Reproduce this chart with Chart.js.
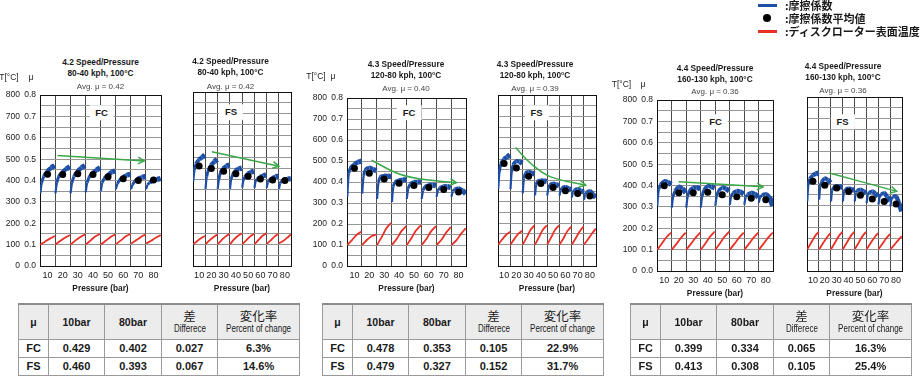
<!DOCTYPE html>
<html><head><meta charset="utf-8">
<script src="https://cdn.jsdelivr.net/npm/chart.js@4/dist/chart.umd.min.js"></script>
<style>
body{margin:0;width:920px;height:379px;position:relative;background:#fff;font-family:"Liberation Sans",Arial,sans-serif;overflow:hidden;color:#1a1a1a}
canvas{position:absolute}
.t{position:absolute;transform:translate(-50%,-50%);white-space:nowrap;line-height:1}
.ttl{font-weight:bold;font-size:8.3px;color:#1a1a1a}
.avg{font-size:8px;color:#444}
.hd{font-size:8.5px;color:#222}
.tag{font-weight:bold;font-size:9.5px;background:#fff;padding:3px 6px}
.lg{position:absolute;left:785px;font-family:"Noto Sans CJK JP",sans-serif;font-size:11px;font-weight:600;line-height:1;transform:translateY(-50%);white-space:nowrap}
table{position:absolute;border-collapse:collapse;table-layout:fixed;top:303px;border-top:2px solid #8c8c8c}
td{border:1px solid #9a9a9a;text-align:center;font-weight:bold;font-size:11px;padding:0;height:17px;line-height:1;overflow:hidden;white-space:nowrap}
tr.h td{background:#ececec;height:34px;font-size:10.5px}
.jp{font-family:"Noto Sans CJK JP",sans-serif;font-weight:normal;font-size:12.5px;display:block;line-height:14px}
.nar{font-weight:normal;font-size:10px;display:inline-block;line-height:12px;transform:scaleX(0.8);transform-origin:center;white-space:nowrap}
</style></head><body>
<script>
// ---------------- DATA ----------------
const categories = [10,20,30,40,50,60,70,80];          // pressure (bar)
const xTickLabels = [10,20,30,40,50,60,70,80];
const muTickLabels = [0.0,0.1,0.2,0.3,0.4,0.5,0.6,0.7,0.8];
const tempTickLabels = [0,100,200,300,400,500,600,700,800];
const hookDX = [-4.8,-3.8,-2.5,0,2.5,4.8];   // sample positions inside each pressure step (bar offset)
const redDX = [-4.8,-1.5,1.5,4.8];

// friction coefficient traces (one row per pressure step)
const mu42FC = [[0.34,0.39,0.42,0.445,0.46,0.47],[0.34,0.39,0.42,0.44,0.455,0.465],[0.34,0.39,0.42,0.445,0.46,0.47],[0.345,0.39,0.415,0.435,0.45,0.46],[0.35,0.39,0.41,0.425,0.44,0.445],[0.36,0.385,0.40,0.415,0.425,0.43],[0.36,0.38,0.395,0.41,0.415,0.42],[0.36,0.38,0.39,0.40,0.405,0.41]];
const mu42FS = [[0.39,0.44,0.47,0.49,0.50,0.51],[0.355,0.41,0.44,0.465,0.48,0.49],[0.355,0.40,0.43,0.45,0.46,0.465],[0.355,0.40,0.42,0.44,0.447,0.45],[0.36,0.395,0.41,0.425,0.432,0.436],[0.36,0.39,0.40,0.41,0.415,0.42],[0.36,0.385,0.395,0.405,0.41,0.413],[0.355,0.38,0.39,0.395,0.40,0.40]];
const mu43FC = [[0.33,0.44,0.47,0.485,0.495,0.50],[0.345,0.43,0.46,0.468,0.46,0.453],[0.32,0.40,0.425,0.43,0.428,0.426],[0.305,0.38,0.40,0.408,0.41,0.41],[0.32,0.37,0.39,0.40,0.40,0.40],[0.32,0.36,0.378,0.386,0.386,0.383],[0.33,0.36,0.372,0.38,0.378,0.374],[0.33,0.355,0.365,0.37,0.36,0.344]];
const mu43FS = [[0.36,0.44,0.48,0.50,0.51,0.52],[0.36,0.44,0.475,0.49,0.488,0.48],[0.34,0.41,0.435,0.44,0.435,0.43],[0.33,0.38,0.397,0.40,0.398,0.395],[0.33,0.365,0.38,0.385,0.38,0.375],[0.33,0.355,0.365,0.37,0.362,0.355],[0.32,0.345,0.355,0.36,0.352,0.345],[0.31,0.335,0.345,0.35,0.335,0.32]];
const mu44FC = [[0.305,0.38,0.405,0.42,0.415,0.405],[0.297,0.35,0.375,0.394,0.385,0.366],[0.297,0.35,0.375,0.39,0.39,0.385],[0.297,0.35,0.38,0.397,0.395,0.39],[0.305,0.35,0.375,0.39,0.385,0.375],[0.31,0.35,0.365,0.374,0.37,0.36],[0.31,0.345,0.358,0.366,0.36,0.345],[0.32,0.345,0.355,0.36,0.345,0.305]];
const mu44FS = [[0.32,0.40,0.425,0.44,0.447,0.45],[0.328,0.39,0.41,0.425,0.418,0.405],[0.32,0.37,0.385,0.39,0.388,0.385],[0.32,0.365,0.375,0.38,0.375,0.37],[0.32,0.36,0.37,0.374,0.366,0.358],[0.312,0.35,0.36,0.366,0.355,0.343],[0.305,0.34,0.352,0.358,0.34,0.32],[0.297,0.33,0.34,0.343,0.31,0.274]];

// disc rotor surface temperature traces (°C)
const temp42FC = [[100,115,128,140],[100,118,132,145],[100,120,135,148],[100,120,138,150],[100,118,135,148],[102,120,138,150],[105,120,135,148],[105,118,132,145]];
const temp42FS = [[100,115,128,138],[100,118,132,145],[100,120,135,148],[100,122,138,150],[100,118,135,148],[100,120,138,150],[102,118,135,148],[105,115,128,145]];
const temp43FC = [[100,125,148,165],[100,125,142,150],[100,140,180,205],[100,130,165,190],[100,135,170,195],[100,130,165,190],[100,125,158,185],[100,122,152,180]];
const temp43FS = [[100,125,145,160],[100,128,150,165],[100,135,168,190],[100,135,168,190],[100,135,168,190],[100,130,162,185],[100,130,160,185],[100,125,150,175]];
const temp44FC = [[100,130,158,180],[100,128,155,180],[100,128,155,180],[100,130,160,185],[100,130,160,185],[100,128,155,180],[100,128,155,180],[100,128,155,180]];
const temp44FS = [[100,130,158,180],[100,128,152,175],[100,130,158,180],[100,130,158,180],[100,130,158,180],[100,128,152,175],[100,125,148,170],[100,120,140,160]];

// average friction coefficient per pressure step
const avg42FC = [0.429,0.428,0.432,0.428,0.418,0.408,0.400,0.402];
const avg42FS = [0.460,0.448,0.436,0.424,0.413,0.400,0.395,0.393];
const avg43FC = [0.466,0.442,0.414,0.394,0.383,0.374,0.364,0.353];
const avg43FS = [0.479,0.458,0.420,0.386,0.367,0.352,0.339,0.327];
const avg44FC = [0.399,0.366,0.366,0.369,0.357,0.348,0.340,0.334];
const avg44FS = [0.413,0.394,0.382,0.366,0.348,0.331,0.320,0.308];

// trend arrows (pressure, mu)
const trendX42FC = [16.6,73.9], trendY42FC = [0.517,0.492];
const trendX42FS = [20.4,75.1], trendY42FS = [0.525,0.459];
const trendX43FC = [21.5,40.6,58.6,78.5], trendY43FC = [0.504,0.437,0.411,0.397];
const trendX43FS = [19.3,32.5,48,76.6], trendY43FS = [0.554,0.476,0.417,0.378];
const trendX44FC = [19.9,78.1], trendY44FC = [0.418,0.394];
const trendX44FS = [23.8,80.5], trendY44FS = [0.451,0.366];

// summary tables
const tableHead = ['μ','10bar','80bar'];
const table42 = [['FC','0.429','0.402','0.027','6.3%'],['FS','0.460','0.393','0.067','14.6%']];
const table43 = [['FC','0.478','0.353','0.105','22.9%'],['FS','0.479','0.327','0.152','31.7%']];
const table44 = [['FC','0.399','0.334','0.065','16.3%'],['FS','0.413','0.308','0.105','25.4%']];

// ---------------- LAYOUT ----------------
const panels = [
 {rect:[40,92,161,266], showY:true, t1:'4.2 Speed/Pressure', t2:'80-40 kph, 100°C', avg:'Avg. μ = 0.42', tag:'FC', mu:mu42FC, temp:temp42FC, dots:avg42FC, tx:trendX42FC, ty:trendY42FC, tpos:[100.5,61.5,73,87], tagpos:[101.5,112.5], hdpos:[9,31,77]},
 {rect:[170,92,291,266], showY:false, t1:'4.2 Speed/Pressure', t2:'80-40 kph, 100°C', avg:'Avg. μ = 0.42', tag:'FS', mu:mu42FS, temp:temp42FS, dots:avg42FS, tx:trendX42FS, ty:trendY42FS, tpos:[230.5,60.5,72,86.5], tagpos:[231,112]},
 {rect:[347,95,466,266], showY:true, t1:'4.3 Speed/Pressure', t2:'120-80 kph, 100°C', avg:'Avg. μ = 0.40', tag:'FC', mu:mu43FC, temp:temp43FC, dots:avg43FC, tx:trendX43FC, ty:trendY43FC, tpos:[406,64,75,89], tagpos:[409,112.5], hdpos:[316,333,76]},
 {rect:[475,95,596,266], showY:false, t1:'4.3 Speed/Pressure', t2:'120-80 kph, 100°C', avg:'Avg. μ = 0.39', tag:'FS', mu:mu43FS, temp:temp43FS, dots:avg43FS, tx:trendX43FS, ty:trendY43FS, tpos:[535,63.5,75,88.5], tagpos:[536.5,112.5]},
 {rect:[657,97,773,271], showY:true, t1:'4.4 Speed/Pressure', t2:'160-130 kph, 100°C', avg:'Avg. μ = 0.36', tag:'FC', mu:mu44FC, temp:temp44FC, dots:avg44FC, tx:trendX44FC, ty:trendY44FC, tpos:[715,67.5,78.5,92], tagpos:[715.5,121.5], hdpos:[621.5,643,84]},
 {rect:[784,97,902,271], showY:false, t1:'4.4 Speed/Pressure', t2:'160-130 kph, 100°C', avg:'Avg. μ = 0.36', tag:'FS', mu:mu44FS, temp:temp44FS, dots:avg44FS, tx:trendX44FS, ty:trendY44FS, tpos:[843,65.5,77,90.5], tagpos:[842.5,121.5]}
];
const tables = [{rows:table42,left:18},{rows:table43,left:322},{rows:table44,left:630}];
const colW = [30,56,57,56,73];

// ---------------- HELPERS ----------------
function txt(cls, s, x, y){const d=document.createElement('div');d.className='t '+cls;d.textContent=s;d.style.left=x+'px';d.style.top=y+'px';document.body.appendChild(d);return d;}
function traces(rows, dx){
  const pts=[];
  rows.forEach((r,i)=>{const c=categories[i];r.forEach((v,j)=>pts.push({x:c+dx[j],y:v}));if(i<rows.length-1)pts.push({x:c+5,y:null});});
  return pts;
}
const near=(v,s)=>Math.abs(v/s-Math.round(v/s))<1e-6;

const arrowPlugin={id:'arrowHead',afterDatasetsDraw(chart){
  const ctx=chart.ctx;
  chart.data.datasets.forEach((ds,i)=>{
    if(!ds.arrowHead)return;
    const pts=chart.getDatasetMeta(i).data;const a=pts[pts.length-2],b=pts[pts.length-1];
    const ang=Math.atan2(b.y-a.y,b.x-a.x);const L=7,s=0.5;
    ctx.save();ctx.strokeStyle=ds.borderColor;ctx.lineWidth=1.5;ctx.beginPath();
    ctx.moveTo(b.x-L*Math.cos(ang-s),b.y-L*Math.sin(ang-s));ctx.lineTo(b.x,b.y);
    ctx.lineTo(b.x-L*Math.cos(ang+s),b.y-L*Math.sin(ang+s));ctx.stroke();ctx.restore();
  });
}};

Chart.defaults.font.family='"Liberation Sans", Arial, sans-serif';
Chart.defaults.color='#1a1a1a';

const hookLen = hookDX.length + 1;
panels.forEach(p=>{
  const padL=45,padT=6,padR=6,xH=28;
  const w=p.rect[2]-p.rect[0],h=p.rect[3]-p.rect[1];
  const W=w+padL+padR,H=h+padT+xH;
  const cv=document.createElement('canvas');
  cv.width=W;cv.height=H;cv.style.width=W+'px';cv.style.height=H+'px';
  cv.style.left=(p.rect[0]-padL)+'px';cv.style.top=(p.rect[1]-padT)+'px';
  document.body.appendChild(cv);
  const trend=p.tx.map((x,i)=>({x:x,y:p.ty[i]}));
  new Chart(cv,{type:'line',
    data:{datasets:[
      {label:'摩擦係数平均値',data:categories.map((c,i)=>({x:c,y:p.dots[i]})),showLine:false,pointRadius:3.5,pointBorderWidth:0,pointBackgroundColor:'#000',pointBorderColor:'#000',yAxisID:'y'},
      {label:'trend',data:trend,borderColor:'#3aa848',borderWidth:1.5,pointRadius:0,tension:0.4,arrowHead:true,yAxisID:'y'},
      {label:'摩擦係数',data:traces(p.mu,hookDX),borderColor:'#1d4fa6',borderWidth:3,pointRadius:0,tension:0.4,spanGaps:false,yAxisID:'y',
        segment:{borderWidth:c=>2.2+(c.p0DataIndex%hookLen)*0.75}},
      {label:'ディスクローター表面温度',data:traces(p.temp,redDX),borderColor:'#ea2f25',borderWidth:1.8,pointRadius:0,tension:0.35,spanGaps:false,yAxisID:'yT'}
    ]},
    options:{responsive:false,animation:false,devicePixelRatio:1,
      layout:{padding:{left:p.showY?padL-40:padL,top:padT,right:padR,bottom:0}},
      plugins:{legend:{display:false},tooltip:{enabled:false}},
      scales:{
        x:{type:'linear',min:5,max:85,
          ticks:{stepSize:5,autoSkip:false,maxRotation:0,padding:4,font:{size:9},color:'#1a1a1a',
            callback:v=>xTickLabels.includes(v)?String(v):''},
          grid:{drawTicks:false,lineWidth:1,color:c=>{const v=c.tick.value;if(v===5||v===85)return '#111';return near(v,10)?'rgba(0,0,0,0)':'#4a4a4a';}},
          border:{color:'#111',width:1},
          title:{display:true,text:'Pressure (bar)',font:{size:8.3,weight:'bold'},padding:{top:0,bottom:0},color:'#1a1a1a'},
          afterFit:s=>{s.height=xH;}},
        y:{min:0,max:0.8,position:'left',weight:0,
          ticks:{display:p.showY,stepSize:0.05,autoSkip:false,padding:4,font:{size:8.5},color:'#1a1a1a',
            callback:v=>{const m=muTickLabels.find(t=>Math.abs(t-v)<1e-6);return m===undefined?'':m.toFixed(1);}},
          grid:{drawTicks:false,lineWidth:1,color:c=>{const v=c.tick.value;if(Math.abs(v-0.8)<1e-6||v===0)return '#111';return '#969696';}},
          border:{color:'#111',width:1},
          afterFit:s=>{s.width=p.showY?17:0;}},
        yT:{min:0,max:800,position:'left',weight:10,display:p.showY,
          ticks:{stepSize:100,autoSkip:false,padding:3,font:{size:8.5},color:'#1a1a1a',
            callback:v=>tempTickLabels.includes(v)?String(v):''},
          grid:{display:false,drawTicks:false},border:{display:false},
          afterFit:s=>{s.width=23;}}
      }},
    plugins:[arrowPlugin]});
  txt('ttl',p.t1,p.tpos[0],p.tpos[1]);
  txt('ttl',p.t2,p.tpos[0],p.tpos[2]);
  txt('avg',p.avg,p.tpos[0],p.tpos[3]);
  txt('tag',p.tag,p.tagpos[0],p.tagpos[1]);
  if(p.hdpos){txt('hd','T[°C]',p.hdpos[0],p.hdpos[2]);txt('hd','μ',p.hdpos[1],p.hdpos[2]);}
});

// legend
(function(){
  const items=[{k:'line',c:'#1d4fa6',y:5,t:':摩擦係数'},{k:'dot',c:'#000',y:17.5,t:':摩擦係数平均値'},{k:'line',c:'#ea2f25',y:31,t:':ディスクローター表面温度'}];
  items.forEach(it=>{
    const m=document.createElement('div');m.style.position='absolute';
    if(it.k==='line'){m.style.left='758px';m.style.top=(it.y-1.5)+'px';m.style.width='19px';m.style.height='3px';m.style.background=it.c;}
    else{m.style.left='763px';m.style.top=(it.y-4)+'px';m.style.width='8px';m.style.height='8px';m.style.borderRadius='50%';m.style.background=it.c;}
    document.body.appendChild(m);
    const l=document.createElement('div');l.className='lg';l.style.top=it.y+'px';l.textContent=it.t;document.body.appendChild(l);
  });
})();

// tables
tables.forEach(tb=>{
  const t=document.createElement('table');t.style.left=tb.left+'px';
  const cg=document.createElement('colgroup');colW.forEach(w=>{const c=document.createElement('col');c.style.width=w+'px';cg.appendChild(c);});t.appendChild(cg);
  const hr=document.createElement('tr');hr.className='h';
  tableHead.forEach(h=>{const td=document.createElement('td');td.textContent=h;hr.appendChild(td);});
  const d1=document.createElement('td');d1.innerHTML='<span class="jp">差</span><span class="nar">Differece</span>';hr.appendChild(d1);
  const d2=document.createElement('td');d2.innerHTML='<span class="jp">変化率</span><span class="nar">Percent of change</span>';hr.appendChild(d2);
  t.appendChild(hr);
  tb.rows.forEach(r=>{const tr=document.createElement('tr');r.forEach(v=>{const td=document.createElement('td');td.textContent=v;tr.appendChild(td);});t.appendChild(tr);});
  document.body.appendChild(t);
});
</script>
</body></html>
